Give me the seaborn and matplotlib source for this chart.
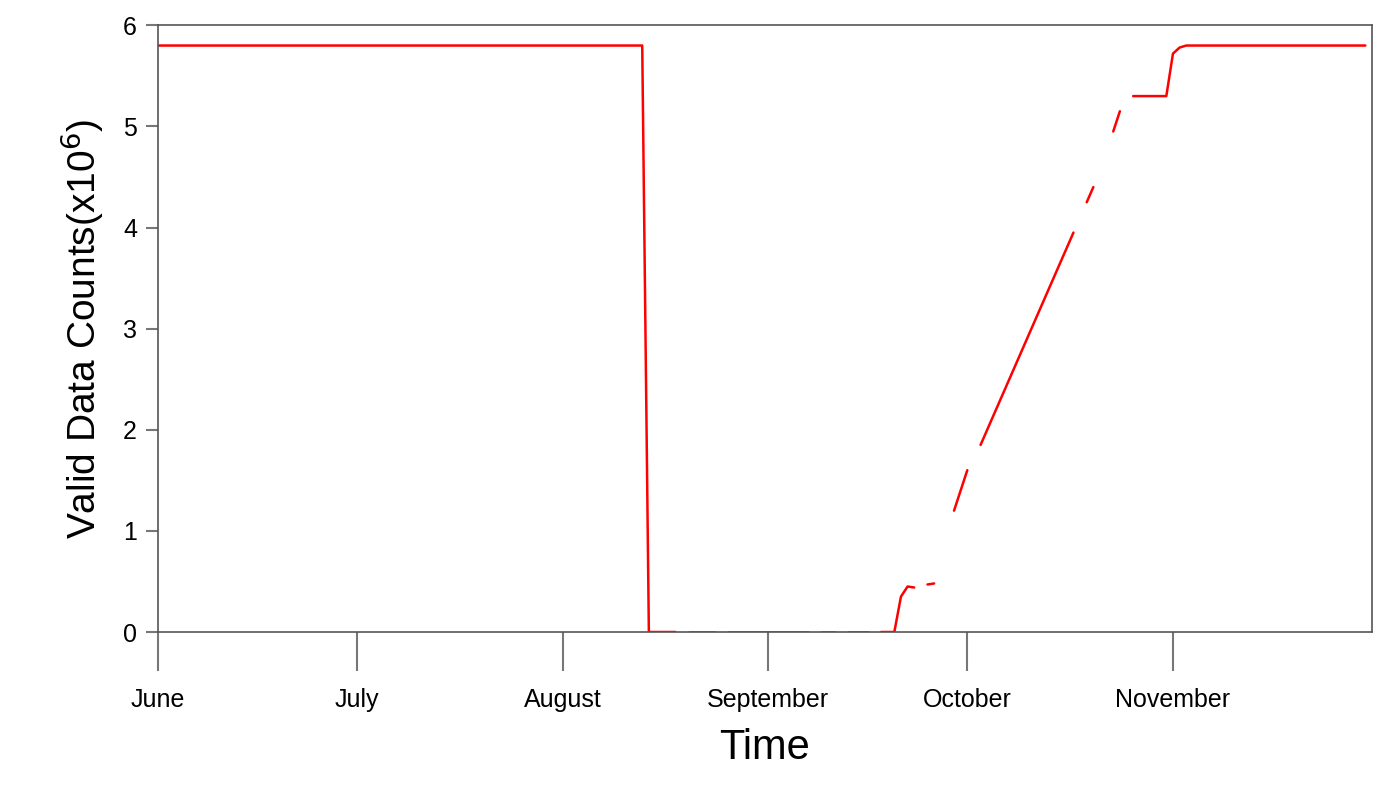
import numpy as np
import pandas as pd
import matplotlib
matplotlib.use("Agg")
import matplotlib.pyplot as plt
import seaborn as sns

sns.set_style("white")
plt.rcParams['font.family'] = ['Liberation Sans', 'DejaVu Sans']

nan = np.nan
# daily valid counts (x10^6), Jun 1 .. Nov 30
summer = [5.8] * 74                      # Jun 1 - Aug 13
outage = [0, 0, 0, 0, 0, nan, 0, 0, 0, 0, 0, nan, 0, 0, 0, 0, 0, 0, 0,
          0, 0, 0, 0, 0, 0, nan, 0, 0, 0, nan, 0, 0, 0, 0, nan, 0, 0, 0]  # Aug 14 - Sep 20
recovery = [0.35, 0.45, 0.44, nan, 0.47, 0.48, nan,          # Sep 21 - Sep 27
            nan, 1.2, 1.4, 1.6, nan, 1.85, 2.0, 2.15, 2.3,   # Sep 28 - Oct 6
            2.45, 2.6, 2.75, 2.9, 3.05, 3.2, 3.35, 3.5, 3.65, 3.8, 3.95,  # Oct 7 - Oct 17
            nan, 4.25, 4.4, nan, nan, 4.95, 5.15, nan,       # Oct 18 - Oct 25
            5.3, 5.3, 5.3, 5.3, 5.3, 5.3,                    # Oct 26 - Oct 31
            5.72, 5.78]                                      # Nov 1 - Nov 2
late = [5.8] * 28                                            # Nov 3 - Nov 30
counts = summer + outage + recovery + late
dates = pd.date_range("2000-06-01", periods=len(counts), freq="D")
df = pd.DataFrame({"date": dates, "count": counts})
# split into pieces at missing days so the gaps stay visible
df["piece"] = df["count"].isna().cumsum()
df = df.dropna()

month_ticks = pd.to_datetime(["2000-06-01", "2000-07-01", "2000-08-01",
                              "2000-09-01", "2000-10-01", "2000-11-01"])
month_labels = ["June", "July", "August", "September", "October", "November"]

fig = plt.figure(figsize=(13.94, 7.91), dpi=100)
ax = fig.add_axes([0.1133, 0.201, 0.8709, 0.767])
sns.lineplot(data=df, x="date", y="count", units="piece", estimator=None,
             color="red", linewidth=1.8, ax=ax)

ax.set_xlim(pd.Timestamp("2000-06-01"), pd.Timestamp("2000-12-01"))
ax.set_ylim(0, 6)
ax.set_xticks(month_ticks)
ax.set_xticklabels(month_labels)
ax.set_yticks(range(7))
for s in ax.spines.values():
    s.set_color("#555555")
    s.set_linewidth(1.2)
ax.tick_params(axis="x", bottom=True, length=28, width=1.5, color="#777777",
               pad=12, labelsize=18, labelcolor="black")
ax.tick_params(axis="y", left=True, length=9, width=1.5, color="#777777",
               pad=6, labelsize=18, labelcolor="black")
ax.set_xlabel("Time", fontsize=30, labelpad=12, color="black")
ax.set_ylabel("Valid Data Counts(x10$^{6}$)", fontsize=28, labelpad=12, color="black")
fig.savefig("out.png", dpi=100)
